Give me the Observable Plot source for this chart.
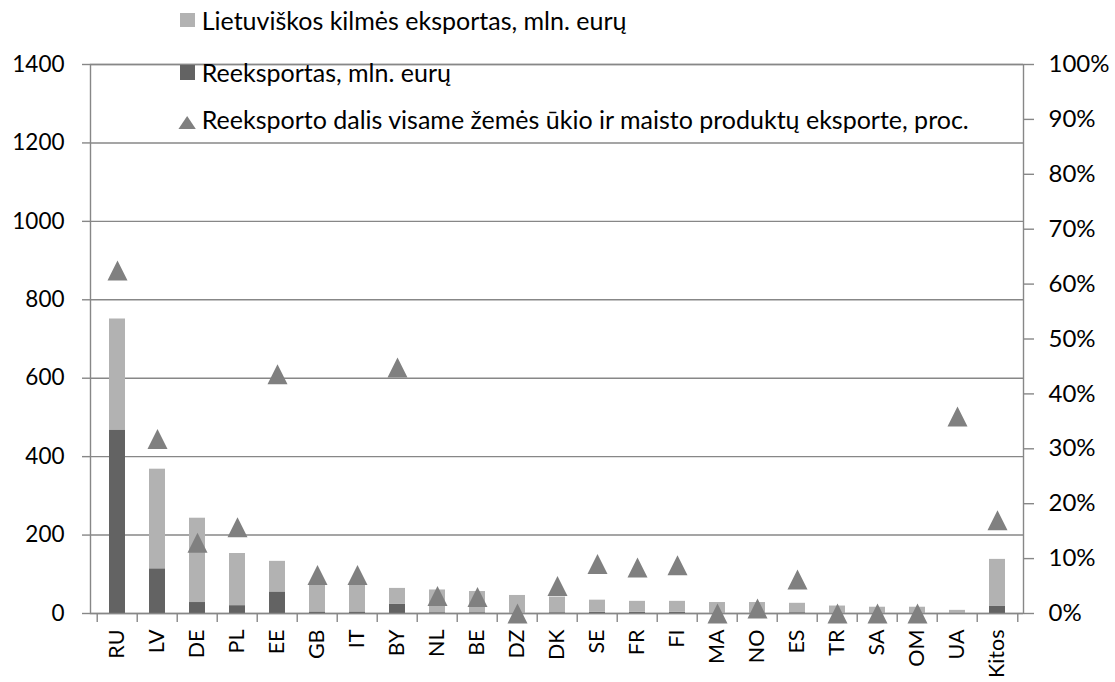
<!DOCTYPE html>
<html>
<head>
<meta charset="utf-8">
<script src="https://cdn.jsdelivr.net/npm/d3@7"></script>
<script src="https://cdn.jsdelivr.net/npm/@observablehq/plot@0.6"></script>
<style>
  html, body { margin: 0; padding: 0; background: #fff; }
  #wrap { position: relative; width: 1115px; height: 682px; font-family: Lato, "Open Sans", sans-serif; }
  #chart { position: absolute; left: 0; top: 0; }
  .leg-text { position: absolute; left: 201.7px; font-size: 25px; line-height: 25px; color: #000; white-space: nowrap; }
  .leg-sq { position: absolute; left: 180px; width: 14.6px; height: 14.6px; }
  .leg-tri { position: absolute; left: 178.3px; width: 17.7px; height: 13.3px; background: #808080; clip-path: polygon(50% 0, 100% 100%, 0 100%); }
</style>
</head>
<body>
<div id="wrap">
  <div id="chart"></div>
</div>
<script>
// ---- data ----
const categories = ["RU","LV","DE","PL","EE","GB","IT","BY","NL","BE","DZ","DK","SE","FR","FI","MA","NO","ES","TR","SA","OM","UA","Kitos"];
// Lithuanian-origin export, mln. EUR
const lithuanianExport = [283, 254, 215, 133, 78, 70, 70, 40, 58, 54, 46, 40, 31, 28, 28, 28, 28, 24, 19, 16, 16, 7, 119];
// Re-export, mln. EUR
const reExport = [468, 114, 28, 20, 55, 4, 4, 24, 2, 2, 0, 2, 3, 3, 3, 0, 0, 2, 0, 0, 0, 1, 19];
// Re-export share in agri-food export, %
const reExportShare = [62.5, 31.8, 12.9, 15.7, 43.6, 7.0, 7.0, 44.8, 3.2, 3.0, 0, 5.0, 9.0, 8.4, 8.8, 0, 0.9, 6.2, 0, 0, 0, 35.9, 17.0];

const seriesNames = [
  "Lietuviškos kilmės eksportas, mln. eurų",
  "Reeksportas, mln. eurų",
  "Reeksporto dalis visame žemės ūkio ir maisto produktų eksporte, proc."
];
const yTicks = [0, 200, 400, 600, 800, 1000, 1200, 1400];
const pctTicks = [0, 10, 20, 30, 40, 50, 60, 70, 80, 90, 100];

// ---- styles ----
const colLight = "#b2b2b2";
const colDark = "#636363";
const colTri = "#808080";
const colGrid = "#878787";
const W = 1115, H = 682, mL = 90, mR = 92, mT = 64, mB = 69;
const yMax = 1400;
const pctToY = p => p / 100 * yMax;

// ---- tables ----
const barRows = [];
categories.forEach((c, i) => {
  barRows.push({cat: c, series: seriesNames[1], value: reExport[i]});
  barRows.push({cat: c, series: seriesNames[0], value: lithuanianExport[i]});
});
const shareRows = categories.map((c, i) => ({cat: c, share: reExportShare[i]}));

const step = (W - mL - mR) / categories.length;

const triangleSymbol = {
  draw(ctx, size) {
    const r = Math.sqrt(size / Math.PI);
    ctx.moveTo(0, -r);
    ctx.lineTo(r, r);
    ctx.lineTo(-r, r);
    ctx.closePath();
  }
};

const chart = Plot.plot({
  width: W,
  height: H,
  marginLeft: mL,
  marginRight: mR,
  marginTop: mT,
  marginBottom: mB,
  style: {fontFamily: "Lato, 'Open Sans', sans-serif", fontSize: "22px", color: "#000", background: "#fff"},
  x: {domain: categories, paddingInner: 0.6, paddingOuter: 0.3, axis: null},
  y: {domain: [0, yMax], axis: null},
  color: {domain: [seriesNames[0], seriesNames[1]], range: [colLight, colDark]},
  marks: [
    Plot.gridY(yTicks, {stroke: colGrid, strokeOpacity: 1, strokeWidth: 1.4}),
    Plot.barY(barRows, {x: "cat", y: "value", fill: "series", order: [seriesNames[1], seriesNames[0]]}),
    Plot.frame({stroke: colGrid, strokeWidth: 1.4}),
    Plot.axisY(yTicks, {anchor: "left", tickSize: 8, tickPadding: 18, stroke: colGrid, strokeWidth: 1.4, fontSize: 22.5, label: null, tickFormat: d => String(d)}),
    Plot.axisY(pctTicks.map(pctToY), {anchor: "right", tickSize: 10, tickPadding: 15, stroke: colGrid, strokeWidth: 1.4, fontSize: 24, label: null, tickFormat: d => Math.round(d / yMax * 100) + "%"}),
    Plot.axisX(categories, {anchor: "bottom", tickSize: 9, tickFormat: () => "", dx: -step / 2, stroke: colGrid, strokeWidth: 1.4, label: null}),
    Plot.axisX([categories[categories.length - 1]], {anchor: "bottom", tickSize: 9, tickFormat: () => "", dx: step / 2, stroke: colGrid, strokeWidth: 1.4, label: null}),
    Plot.axisX(categories, {anchor: "bottom", tickSize: 0, tickPadding: 16, tickRotate: -90, fontSize: 21.5, label: null}),
    Plot.dot(shareRows, {x: "cat", y: d => pctToY(d.share), symbol: triangleSymbol, r: 10, fill: colTri, stroke: "none"})
  ]
});
document.getElementById("chart").appendChild(chart);

// ---- legend (overlapping the plot top, as in the reference) ----
const wrap = document.getElementById("wrap");
const legendItems = [
  {name: seriesNames[0], kind: "sq", color: colLight, markTop: 12.7, textTop: 7.5},
  {name: seriesNames[1], kind: "sq", color: colDark, markTop: 65, textTop: 59.5},
  {name: seriesNames[2], kind: "tri", color: colTri, markTop: 116, textTop: 107}
];
legendItems.forEach(it => {
  const m = document.createElement("div");
  m.className = it.kind === "sq" ? "leg-sq" : "leg-tri";
  m.style.top = it.markTop + "px";
  m.style.background = it.color;
  wrap.appendChild(m);
  const t = document.createElement("div");
  t.className = "leg-text";
  t.style.top = it.textTop + "px";
  t.textContent = it.name;
  wrap.appendChild(t);
});
</script>
</body>
</html>
